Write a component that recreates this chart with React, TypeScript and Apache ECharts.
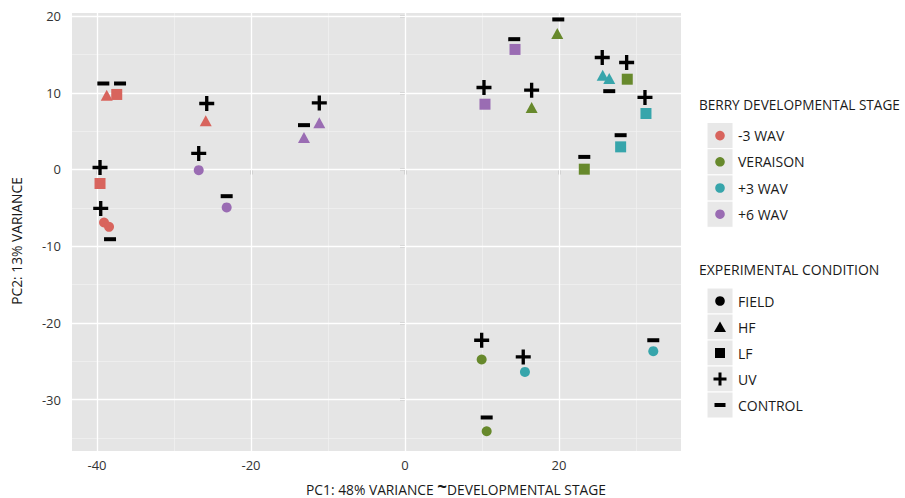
import React, { useEffect, useRef } from "react";
import * as echarts from "echarts";

// Legend entries
const STAGES = ["-3 WAV", "VERAISON", "+3 WAV", "+6 WAV"];
const STAGE_COLORS = ["#D8645D", "#67892C", "#37A5AB", "#9A6CB3"];
const CONDITIONS = ["FIELD", "HF", "LF", "UV", "CONTROL"];

// Axis ticks
const X_TICKS = [-40, -20, 0, 20];
const Y_TICKS = [-30, -20, -10, 0, 10, 20];

// Samples: [PC1, PC2]
const M3WAV_FIELD = [[-39.09, -6.91], [-38.44, -7.48]];
const M3WAV_HF = [[-38.74, 9.69], [-25.88, 6.34]];
const M3WAV_LF = [[-37.44, 9.78], [-39.61, -1.83]];

const VER_FIELD = [[9.96, -24.77], [10.61, -34.12]];
const VER_HF = [[19.78, 17.73], [16.45, 8.08]];
const VER_LF = [[28.87, 11.77], [23.29, 0.04]];

const P3WAV_FIELD = [[15.58, -26.39], [32.25, -23.69]];
const P3WAV_HF = [[25.68, 12.29], [26.53, 11.86]];
const P3WAV_LF = [[31.3, 7.3], [28.01, 2.95]];

const P6WAV_FIELD = [[-26.79, -0.09], [-23.16, -4.95]];
const P6WAV_HF = [[-11.13, 6.08], [-13.12, 4.17]];
const P6WAV_LF = [[10.39, 8.51], [14.29, 15.65]];

// Treatment labels (+ = UV, - = CONTROL)
const UV_MARKS = [
  [-39.61, 0.26], [-39.52, -5.08], [-25.75, 8.6], [-26.79, 2.09], [-11.13, 8.68],
  [10.26, 10.69], [16.45, 10.34], [25.62, 14.6], [28.79, 13.95], [31.17, 9.39],
  [9.96, -22.26], [15.36, -24.43],
];
const CONTROL_MARKS = [
  [-39.18, 11.21], [-37.01, 11.21], [-38.31, -9.09], [-23.16, -3.48], [-13.12, 5.78],
  [19.91, 19.56], [14.19, 16.99], [26.53, 10.21], [28.01, 4.47], [23.29, 1.64],
  [10.61, -32.33], [32.25, -22.26],
];

const X_MIN = -43.25, X_MAX = 35.85, Y_MIN = -36.7, Y_MAX = 20.4;

const PLUS_PATH = "path://M7,0H11V7H18V11H11V18H7V11H0V7H7Z";
const FONT = "Open Sans";

export default function App() {
  const ref = useRef<HTMLDivElement>(null);
  useEffect(() => {
    if (!ref.current) return;
    const chart = echarts.init(ref.current, undefined, { renderer: "svg" });

    const groups = [
      { stage: 0, cond: 0, data: M3WAV_FIELD },
      { stage: 1, cond: 0, data: VER_FIELD },
      { stage: 2, cond: 0, data: P3WAV_FIELD },
      { stage: 3, cond: 0, data: P6WAV_FIELD },
      { stage: 0, cond: 1, data: M3WAV_HF },
      { stage: 1, cond: 1, data: VER_HF },
      { stage: 2, cond: 1, data: P3WAV_HF },
      { stage: 3, cond: 1, data: P6WAV_HF },
      { stage: 0, cond: 2, data: M3WAV_LF },
      { stage: 1, cond: 2, data: VER_LF },
      { stage: 2, cond: 2, data: P3WAV_LF },
      { stage: 3, cond: 2, data: P6WAV_LF },
    ];
    const symbolFor = (c: number) => (c === 0 ? "circle" : c === 1 ? "triangle" : "rect");
    const sizeFor = (c: number) => (c === 0 ? 10 : c === 1 ? [12, 11] : 11);

    const xMinor: number[] = [];
    for (let i = 0; i < X_TICKS.length; i++) {
      const v = X_TICKS[i] + 10;
      if (v < X_MAX) xMinor.push(v);
    }
    const yMinor: number[] = [];
    for (let i = 0; i < Y_TICKS.length; i++) {
      const v = Y_TICKS[i] - 5;
      if (v > Y_MIN) yMinor.push(v);
    }

    const major = { color: "#FFFFFF", width: 1.3, type: "solid" };
    const minor = { color: "#F3F3F3", width: 0.6, type: "solid" };
    const gridLines: any[] = [
      ...xMinor.map((v) => ({ xAxis: v, lineStyle: minor })),
      ...yMinor.map((v) => ({ yAxis: v, lineStyle: minor })),
      ...X_TICKS.map((v) => ({ xAxis: v, lineStyle: major })),
      ...Y_TICKS.map((v) => ({ yAxis: v, lineStyle: major })),
    ];

    const series: any[] = [
      {
        type: "scatter",
        data: [],
        z: 1,
        silent: true,
        markLine: {
          z: 1,
          silent: true,
          symbol: ["none", "none"],
          label: { show: false },
          emphasis: { disabled: true },
          animation: false,
          data: gridLines,
        },
      },
      ...groups.map((g) => ({
        type: "scatter",
        name: STAGES[g.stage] + " " + CONDITIONS[g.cond],
        data: g.data,
        symbol: symbolFor(g.cond),
        symbolSize: sizeFor(g.cond),
        itemStyle: { color: STAGE_COLORS[g.stage], opacity: 1 },
        z: 3,
      })),
      {
        type: "scatter",
        name: "UV",
        data: UV_MARKS,
        symbol: PLUS_PATH,
        symbolSize: 15,
        itemStyle: { color: "#000000", opacity: 1 },
        z: 4,
      },
      {
        type: "scatter",
        name: "CONTROL",
        data: CONTROL_MARKS,
        symbol: "rect",
        symbolSize: [12, 4],
        itemStyle: { color: "#000000", opacity: 1 },
        z: 4,
      },
    ];

    // Legend graphics
    const lx = 707, kw = 26, kh = 26.2;
    const g: any[] = [];
    g.push({
      type: "text", left: 699, top: 97,
      style: { text: "BERRY DEVELOPMENTAL STAGE", fontSize: 13.6, fontFamily: FONT, fill: "#1a1a1a" },
    });
    const top1 = 122.5;
    STAGES.forEach((s, i) => {
      const cy = top1 + kh * i + kh / 2;
      g.push({ type: "rect", shape: { x: lx, y: top1 + kh * i, width: kw, height: kh }, style: { fill: "#E8E8E8", stroke: "#FFFFFF", lineWidth: 1 } });
      g.push({ type: "circle", shape: { cx: lx + kw / 2, cy, r: 4.8 }, style: { fill: STAGE_COLORS[i] } });
      g.push({ type: "text", x: lx + kw + 5, y: cy, style: { text: s, fontSize: 14, fontFamily: FONT, fill: "#1a1a1a", verticalAlign: "middle" } });
    });
    g.push({
      type: "text", left: 699, top: 262,
      style: { text: "EXPERIMENTAL CONDITION", fontSize: 14, fontFamily: FONT, fill: "#1a1a1a" },
    });
    const top2 = 288;
    CONDITIONS.forEach((s, i) => {
      const cy = top2 + 26 * i + 13;
      const cx = lx + kw / 2;
      g.push({ type: "rect", shape: { x: lx, y: top2 + 26 * i, width: kw, height: 26 }, style: { fill: "#E8E8E8", stroke: "#FFFFFF", lineWidth: 1 } });
      if (i === 0) g.push({ type: "circle", shape: { cx, cy, r: 4.8 }, style: { fill: "#000" } });
      if (i === 1) g.push({ type: "polygon", shape: { points: [[cx, cy - 5.5], [cx + 6, cy + 5], [cx - 6, cy + 5]] }, style: { fill: "#000" } });
      if (i === 2) g.push({ type: "rect", shape: { x: cx - 5, y: cy - 5, width: 10, height: 10 }, style: { fill: "#000" } });
      if (i === 3) {
        g.push({ type: "rect", shape: { x: cx - 6.5, y: cy - 1.5, width: 13, height: 3 }, style: { fill: "#000" } });
        g.push({ type: "rect", shape: { x: cx - 1.5, y: cy - 6.5, width: 3, height: 13 }, style: { fill: "#000" } });
      }
      if (i === 4) g.push({ type: "rect", shape: { x: cx - 5.5, y: cy - 2, width: 11, height: 4 }, style: { fill: "#000" } });
      g.push({ type: "text", x: lx + kw + 5, y: cy, style: { text: s, fontSize: 14, fontFamily: FONT, fill: "#1a1a1a", verticalAlign: "middle" } });
    });
    // Axis titles
    g.push({
      type: "text", x: 456, y: 489,
      style: {
        text: "PC1: 48% VARIANCE {t|~}DEVELOPMENTAL STAGE",
        fontSize: 13.8, fontFamily: FONT, fill: "#1a1a1a", align: "center", verticalAlign: "middle",
        rich: { t: { fontSize: 17, fontWeight: "bold", fontFamily: FONT, fill: "#1a1a1a", padding: [0, 0, 6, 0] } },
      },
    });
    g.push({
      type: "text", x: 16, y: 241, rotation: Math.PI / 2,
      style: { text: "PC2: 13% VARIANCE", fontSize: 13.8, fontFamily: FONT, fill: "#1a1a1a", align: "center", verticalAlign: "middle" },
    });

    chart.setOption({
      animation: false,
      textStyle: { fontFamily: FONT },
      grid: { left: 72, right: 224, top: 13, bottom: 47, show: true, backgroundColor: "#E5E5E5", borderWidth: 0 },
      xAxis: {
        type: "value", min: X_MIN, max: X_MAX,
        axisLine: { show: false },
        axisTick: { show: true, customValues: X_TICKS, length: 5, lineStyle: { color: "#333", width: 1.3 } },
        axisLabel: { customValues: X_TICKS, color: "#333", fontSize: 13, margin: 7, fontFamily: FONT },
        splitLine: { show: false },
      },
      yAxis: {
        type: "value", min: Y_MIN, max: Y_MAX,
        axisLine: { show: false },
        axisTick: { show: true, customValues: Y_TICKS, length: 5, lineStyle: { color: "#333", width: 1.3 } },
        axisLabel: { customValues: Y_TICKS, color: "#333", fontSize: 13, margin: 11, fontFamily: FONT },
        splitLine: { show: false },
      },
      graphic: g,
      series,
    });
    return () => chart.dispose();
  }, []);
  return <div ref={ref} style={{ width: 905, height: 498, position: "absolute", left: 0, top: 0 }} />;
}
